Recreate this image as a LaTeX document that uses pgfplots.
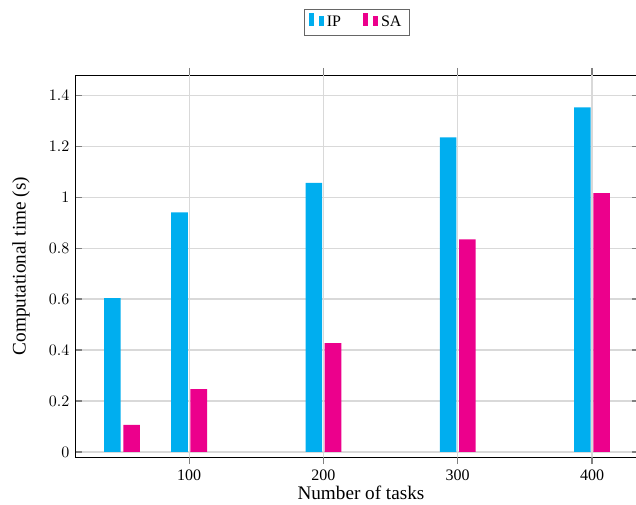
\documentclass[border=0pt]{standalone}
\usepackage{fontspec}
\setmainfont{Liberation Serif}
\usepackage{pgfplots}
\pgfplotsset{compat=1.18}
\definecolor{ipc}{HTML}{00AEEF}
\definecolor{sac}{HTML}{EC008C}
\definecolor{gridc}{HTML}{D9D9D9}
\begin{document}
\begin{tikzpicture}
\begin{axis}[
 scale only axis, width=352.5pt, height=238.75pt,
 xmin=15, xmax=435, ymin=-0.02, ymax=1.48,
 enlargelimits=false,
 ybar=1.6pt, bar width=10.4pt,
 axis line style={line width=0.6pt, black},
 xtick=\empty,
 extra x ticks={100,200,300,400},
 extra x tick labels={100,200,300,400},
 extra x tick style={tick align=outside, grid=major},
 ytick={0,0.2,0.4,0.6,0.8,1,1.2,1.4},
 ymajorgrids,
 grid style={gridc, line width=0.8pt},
 major tick style={gray, line width=0.8pt},
 major tick length=4.4pt,
 tick label style={font=\normalsize},
 xlabel={Number of tasks}, ylabel={Computational time (s)},
 every axis x label/.style={at={(axis description cs:0.507,0)}, yshift=-22.2pt, anchor=center, font=\large},
 every axis y label/.style={at={(axis description cs:-0.0957,0.5)}, rotate=90, anchor=center, font=\large},
 legend image code/.code={%
   \fill[#1,draw=none] (-1.5pt,-0.2em) rectangle (1.5pt,0.6em);
   \fill[#1,draw=none] (4.5pt,-0.2em) rectangle (7.5pt,0.4em);},
 legend style={at={(0.5,1.102)}, anchor=south, legend columns=2, draw=gray!80!black, line width=0.6pt, font=\normalsize, /tikz/every even column/.append style={column sep=12pt}},
]
\addplot[fill=ipc, draw=none] coordinates {(50,0.604) (100,0.941) (200,1.056) (300,1.235) (400,1.353)};
\addplot[fill=sac, draw=none] coordinates {(50,0.106) (100,0.247) (200,0.427) (300,0.835) (400,1.016)};
\legend{IP,SA}
\end{axis}
\pgfresetboundingbox
\path[use as bounding box] ([shift={(-46.875pt,-29.375pt)}]current axis.south west) rectangle ([shift={(350.625pt,285.625pt)}]current axis.south west);
\end{tikzpicture}
\end{document}
